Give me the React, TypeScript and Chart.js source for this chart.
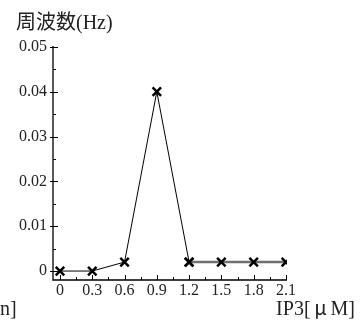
import React, { useEffect, useRef } from "react";
import { Chart, registerables } from "chart.js";

Chart.register(...registerables);

const xValues = [0, 0.3, 0.6, 0.9, 1.2, 1.5, 1.8, 2.1];
const yValues = [0, 0, 0.002, 0.04, 0.002, 0.002, 0.002, 0.002];
const xTicks = [0, 0.3, 0.6, 0.9, 1.2, 1.5, 1.8, 2.1];
const xTickLabels = ["0", "0.3", "0.6", "0.9", "1.2", "1.5", "1.8", "2.1"];
const yTicks = [0, 0.01, 0.02, 0.03, 0.04, 0.05];
const yTickLabels = ["0", "0.01", "0.02", "0.03", "0.04", "0.05"];
const yTitle = "周波数(Hz)";
const xTitleParts = ["IP3[", "μ", "M]"];
const leftCut = "n]";

const FONT = "'Liberation Serif', 'DejaVu Serif', 'Noto Sans CJK JP', serif";
const CJK = "'Noto Sans CJK JP', sans-serif";

export default function App() {
  const ref = useRef<HTMLCanvasElement | null>(null);
  useEffect(() => {
    document.body.style.margin = "0";
    const canvas = ref.current!;
    const split = 4;
    const blackPts = xValues.slice(0, split + 1).map((x, i) => ({ x, y: yValues[i] }));
    const grayPts = xValues.slice(split).map((x, i) => ({ x, y: yValues[i + split] }));

    const axesPlugin = {
      id: "customAxes",
      beforeDatasetsDraw(chart: any) {
        const ctx = chart.ctx as CanvasRenderingContext2D;
        const xs = chart.scales.x;
        const ys = chart.scales.y;
        const { left, right, top, bottom } = chart.chartArea;
        ctx.save();
        ctx.strokeStyle = "#000";
        ctx.lineWidth = 1.3;
        ctx.beginPath();
        ctx.moveTo(left, top);
        ctx.lineTo(left, bottom);
        ctx.lineTo(right, bottom);
        ctx.stroke();
        ctx.lineWidth = 1;
        for (let v = 0; v <= 0.05 + 1e-9; v += 0.005) {
          const py = Math.round(ys.getPixelForValue(v)) + 0.5;
          const major = Math.abs(v / 0.01 - Math.round(v / 0.01)) < 1e-6;
          ctx.beginPath();
          ctx.moveTo(left - (major ? 3 : 0), py);
          ctx.lineTo(left + (major ? 5 : 3), py);
          ctx.stroke();
        }
        for (let v = 0; v <= 2.1 + 1e-9; v += 0.15) {
          const px = Math.round(xs.getPixelForValue(v)) + 0.5;
          const major = Math.abs(v / 0.3 - Math.round(v / 0.3)) < 1e-6;
          ctx.beginPath();
          ctx.moveTo(px, bottom);
          ctx.lineTo(px, bottom - (major ? 5 : 3));
          ctx.stroke();
        }
        ctx.fillStyle = "#222";
        ctx.font = "16px " + FONT;
        ctx.textAlign = "right";
        ctx.textBaseline = "middle";
        yTicks.forEach((v, i) => {
          ctx.fillText(yTickLabels[i], left - 6, ys.getPixelForValue(v));
        });
        ctx.textAlign = "center";
        ctx.textBaseline = "top";
        xTicks.forEach((v, i) => {
          ctx.fillText(xTickLabels[i], xs.getPixelForValue(v), bottom + 3);
        });
        ctx.font = "20px " + FONT;
        ctx.textAlign = "left";
        ctx.textBaseline = "alphabetic";
        ctx.fillText(yTitle, 16, 29);
        ctx.fillText(leftCut, 0, 315);
        // x title, right-aligned at 355, with a full-width mu
        ctx.font = "20px " + FONT;
        const w0 = ctx.measureText(xTitleParts[0]).width;
        const w2 = ctx.measureText(xTitleParts[2]).width;
        ctx.font = "20px " + CJK;
        const w1 = Math.max(ctx.measureText(xTitleParts[1]).width, 20);
        let x = 355 - (w0 + w1 + w2);
        ctx.font = "20px " + FONT;
        ctx.fillText(xTitleParts[0], x, 315);
        x += w0;
        ctx.font = "20px " + CJK;
        ctx.textAlign = "center";
        ctx.fillText(xTitleParts[1], x + w1 / 2, 315);
        ctx.textAlign = "left";
        x += w1;
        ctx.font = "20px " + FONT;
        ctx.fillText(xTitleParts[2], x, 315);
        ctx.restore();
      },
    };

    const chart = new Chart(canvas, {
      type: "line",
      data: {
        datasets: [
          {
            data: blackPts,
            borderColor: "#000",
            borderWidth: 1,
            pointStyle: "crossRot",
            pointRadius: 6,
            pointBorderWidth: 2.5,
            pointBorderColor: "#000",
            tension: 0,
          },
          {
            data: grayPts,
            borderColor: "#707070",
            borderWidth: 2.5,
            pointStyle: "crossRot",
            pointRadius: 6,
            pointBorderWidth: 2.5,
            pointBorderColor: "#000",
            tension: 0,
          },
        ],
      },
      options: {
        animation: false,
        responsive: false,
        devicePixelRatio: 1,
        layout: { padding: { left: 53, right: 73, top: 46, bottom: 42 } },
        plugins: { legend: { display: false }, tooltip: { enabled: false } },
        scales: {
          x: { type: "linear", min: -0.065, max: 2.11, display: false },
          y: { type: "linear", min: -0.002, max: 0.0502, display: false },
        },
      },
      plugins: [axesPlugin],
    });
    return () => chart.destroy();
  }, []);
  return <canvas ref={ref} width={360} height={322} style={{ display: "block" }} />;
}
